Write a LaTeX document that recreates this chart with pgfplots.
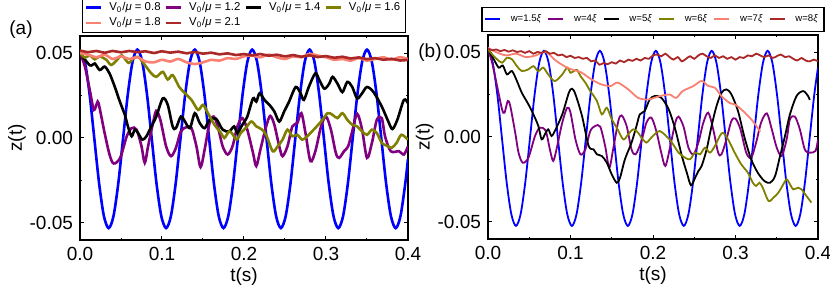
\documentclass[border=0pt]{standalone}
\usepackage{pgfplots}
\pgfplotsset{compat=1.18}
\usepackage{fontspec}
\setmainfont{Liberation Sans}
\definecolor{cblue}{RGB}{0,0,255}
\definecolor{cpurple}{RGB}{128,0,128}
\definecolor{colive}{RGB}{128,128,0}
\definecolor{csalmon}{RGB}{250,128,114}
\definecolor{cbrown}{RGB}{170,40,40}
\pgfplotsset{
  panel/.style={
    scale only axis, height=102pt,
    xmin=0, xmax=0.4, ymin=-0.06, ymax=0.06,
    xtick={0,0.1,0.2,0.3,0.4}, xticklabels={0.0,0.1,0.2,0.3,0.4},
    ytick={-0.05,0,0.05}, yticklabels={-0.05,0.00,0.05},
    minor x tick num=1, minor y tick num=1,
    tick align=inside, tick pos=both,
    major tick length=2.2pt, minor tick length=1.2pt,
    every tick/.style={black, line width=0.5pt},
    axis line style={line width=0.9pt},
    tick label style={font=\fontsize{9.5}{11}\selectfont},
    label style={font=\fontsize{9.5}{11}\selectfont},
    xlabel={t(s)}, ylabel={z(t)},
    xlabel style={at={(axis description cs:0.5,-0.181)}, anchor=center},
    ylabel style={at={(axis description cs:-0.192,0.5)}, anchor=center},
    legend cell align=left,
    legend image code/.code={\draw[##1] (0pt,0pt) -- (7.5pt,0pt);},
    every axis plot/.append style={smooth, tension=0.5},
  },
}
\begin{document}
\begin{tikzpicture}
\useasboundingbox (0,0) rectangle (415pt,-147.5pt);
\node[font=\fontsize{9.5}{11}\selectfont] at (10.5pt,-15pt) {(a)};
\node[font=\fontsize{9.5}{11}\selectfont] at (215pt,-26.5pt) {(b)};
% ---------------- panel (a)
\begin{axis}[panel, width=164pt, at={(40pt,-18pt)}, anchor=north west,
  every axis plot/.append style={line width=1.3pt},
  legend columns=4,
  legend style={at={(axis description cs:0.5,1.015)}, anchor=south, draw=black, line width=0.7pt,
    font=\fontsize{5.7}{6.5}\selectfont, inner xsep=1pt, inner ysep=0.8pt,
    nodes={inner xsep=1.5pt, inner ysep=1pt},
    /tikz/every odd column/.append style={column sep=2pt},
    /tikz/every even column/.append style={column sep=0.5pt}},
  ]
\addplot[cblue] coordinates {
(0,0.050) (0.00583,0.045) (0.01167,0.0258) (0.0175,-0.0005) (0.02333,-0.0268) (0.02917,-0.046) (0.035,-0.053) (0.04083,-0.046) (0.04667,-0.0268) (0.0525,-0.0005) (0.05833,0.0258) (0.06417,0.045)
(0.07,0.052) (0.07583,0.045) (0.08167,0.0258) (0.0875,-0.0005) (0.09333,-0.0268) (0.09917,-0.046) (0.105,-0.053) (0.11083,-0.046) (0.11667,-0.0268) (0.1225,-0.0005) (0.12833,0.0258) (0.13417,0.045)
(0.14,0.052) (0.14583,0.045) (0.15167,0.0258) (0.1575,-0.0005) (0.16333,-0.0268) (0.16917,-0.046) (0.175,-0.053) (0.18083,-0.046) (0.18667,-0.0268) (0.1925,-0.0005) (0.19833,0.0258) (0.20417,0.045)
(0.21,0.052) (0.21583,0.045) (0.22167,0.0258) (0.2275,-0.0005) (0.23333,-0.0268) (0.23917,-0.046) (0.245,-0.053) (0.25083,-0.046) (0.25667,-0.0268) (0.2625,-0.0005) (0.26833,0.0258) (0.27417,0.045)
(0.28,0.052) (0.28583,0.045) (0.29167,0.0258) (0.2975,-0.0005) (0.30333,-0.0268) (0.30917,-0.046) (0.315,-0.053) (0.32083,-0.046) (0.32667,-0.0268) (0.3325,-0.0005) (0.33833,0.0258) (0.34417,0.045)
(0.35,0.052) (0.35583,0.045) (0.36167,0.0258) (0.3675,-0.0005) (0.37333,-0.0268) (0.37917,-0.046) (0.385,-0.053) (0.39083,-0.046) (0.39667,-0.0268) (0.4,-0.0123)
};
\addlegendentry{V\textsubscript{0}/\textit{μ} = 0.8}
\addplot[cpurple] coordinates {
(0,0.05) (0.006,0.042) (0.012,0.028) (0.017,0.0165) (0.0215,0.0214) (0.024,0.0175) (0.030,0.003) (0.036,-0.0097) (0.041,-0.015) (0.049,-0.0117) (0.057,0.001) (0.063,0.0058) (0.069,0.0049) (0.075,-0.0049) (0.079,-0.0146) (0.083,-0.0049) (0.089,0.0088) (0.093,0.016) (0.098,0.0107) (0.105,-0.0049) (0.111,-0.0107) (0.117,-0.0058) (0.123,0.0039) (0.130,0.0064) (0.136,0.0058) (0.142,-0.0049) (0.147,-0.0171) (0.152,-0.0068) (0.158,0.0088) (0.163,0.0126) (0.168,0.0068) (0.174,-0.0049) (0.180,-0.0097) (0.186,-0.0049) (0.192,0.0068) (0.198,0.0117) (0.204,0.0049) (0.211,-0.0088) (0.215,-0.0165) (0.220,-0.0068) (0.227,0.0068) (0.232,0.013) (0.237,0.0078) (0.243,-0.0049) (0.247,-0.0107) (0.253,-0.0049) (0.259,0.0068) (0.265,0.0088) (0.270,0.0146) (0.275,0.0029) (0.281,-0.0136) (0.287,-0.0078) (0.294,0.0068) (0.300,0.0126) (0.306,0.0049) (0.312,-0.0088) (0.316,-0.0117) (0.322,-0.0078) (0.327,-0.0049) (0.332,0.0039) (0.338,0.0142) (0.344,0.0049) (0.350,-0.0117) (0.356,-0.0029) (0.362,0.0107) (0.368,0.0117) (0.372,0.001) (0.379,-0.0078) (0.389,-0.0078) (0.395,-0.0097) (0.400,-0.0049)
};
\addlegendentry{V\textsubscript{0}/\textit{μ} = 1.2}
\addplot[black] coordinates {
(0,0.05) (0.012,0.0428) (0.018,0.0438) (0.024,0.040) (0.030,0.042) (0.036,0.038) (0.0425,0.030) (0.0486,0.0214) (0.0547,0.0136) (0.0587,0.0064) (0.063,0.001) (0.0668,0.0049) (0.0709,0.0029) (0.076,-0.001) (0.081,0.001) (0.087,0.0068) (0.093,0.0126) (0.101,0.0233) (0.107,0.0195) (0.113,0.0068) (0.117,0.0058) (0.123,0.0126) (0.128,0.0097) (0.134,0.0058) (0.140,0.0146) (0.146,0.0088) (0.152,0.0058) (0.158,0.0107) (0.166,0.0113) (0.174,0.0049) (0.182,0.0039) (0.188,0.0068) (0.192,0.0029) (0.198,0.0078) (0.204,0.0126) (0.211,0.0233) (0.215,0.0214) (0.219,0.0263) (0.225,0.0224) (0.231,0.0195) (0.237,0.0156) (0.243,0.0097) (0.249,0.0156) (0.255,0.0214) (0.263,0.030) (0.269,0.0263) (0.273,0.0224) (0.279,0.030) (0.287,0.038) (0.292,0.034) (0.298,0.029) (0.304,0.032) (0.308,0.036) (0.314,0.032) (0.320,0.027) (0.326,0.033) (0.332,0.030) (0.338,0.0233) (0.344,0.0263) (0.350,0.030) (0.358,0.027) (0.368,0.0185) (0.376,0.0097) (0.381,0.0053) (0.387,0.0107) (0.395,0.0224) (0.400,0.0204)
};
\addlegendentry{V\textsubscript{0}/\textit{μ} = 1.4}
\addplot[colive] coordinates {
(0,0.05) (0.006,0.0473) (0.012,0.0486) (0.018,0.0463) (0.024,0.048) (0.032,0.046) (0.038,0.043) (0.045,0.0458) (0.051,0.0486) (0.059,0.0442) (0.065,0.0467) (0.071,0.0477) (0.079,0.043) (0.087,0.038) (0.093,0.036) (0.101,0.0389) (0.107,0.0344) (0.113,0.037) (0.121,0.030) (0.128,0.0263) (0.136,0.0224) (0.144,0.0165) (0.150,0.0195) (0.156,0.0146) (0.164,0.0078) (0.172,0.0029) (0.176,0.0) (0.182,0.0039) (0.186,0.0023) (0.191,-0.001) (0.196,0.0029) (0.202,0.0058) (0.209,0.0097) (0.215,0.0068) (0.221,0.0053) (0.227,0.0019) (0.235,-0.0078) (0.241,-0.0049) (0.247,-0.001) (0.253,0.0049) (0.259,0.001) (0.265,0.0019) (0.271,-0.001) (0.277,0.001) (0.285,0.0049) (0.294,0.0097) (0.302,0.0146) (0.308,0.0136) (0.314,0.0117) (0.320,0.0146) (0.326,0.0107) (0.332,0.0078) (0.338,0.0068) (0.344,0.0039) (0.350,0.0019) (0.356,0.0049) (0.362,0.0029) (0.368,-0.0029) (0.374,-0.0045) (0.380,-0.0058) (0.386,-0.0029) (0.392,0.0019) (0.400,-0.001)
};
\addlegendentry{V\textsubscript{0}/\textit{μ} = 1.6}
\addplot[csalmon] coordinates {
(0,0.050) (0.01,0.049) (0.02,0.0475) (0.03,0.049) (0.04,0.0465) (0.05,0.048) (0.06,0.0465) (0.07,0.0475) (0.08,0.045) (0.09,0.0445) (0.1,0.046) (0.11,0.045) (0.12,0.0465) (0.13,0.0445) (0.14,0.0435) (0.15,0.0445) (0.16,0.046) (0.17,0.0455) (0.18,0.047) (0.19,0.0465) (0.2,0.048) (0.21,0.0485) (0.22,0.0475) (0.23,0.049) (0.24,0.0475) (0.25,0.0465) (0.26,0.048) (0.27,0.0475) (0.28,0.0495) (0.29,0.0485) (0.3,0.0475) (0.31,0.046) (0.32,0.0465) (0.33,0.0455) (0.34,0.047) (0.35,0.0455) (0.36,0.0465) (0.37,0.0475) (0.38,0.046) (0.39,0.0475) (0.4,0.0465)
};
\addlegendentry{V\textsubscript{0}/\textit{μ} = 1.8}
\addplot[cbrown] coordinates {
(0,0.0515) (0.01,0.0505) (0.02,0.0512) (0.03,0.0502) (0.04,0.0512) (0.05,0.0504) (0.06,0.0512) (0.07,0.0505) (0.08,0.051) (0.09,0.050) (0.1,0.051) (0.11,0.0502) (0.12,0.0508) (0.13,0.0498) (0.14,0.0506) (0.15,0.0496) (0.16,0.0502) (0.17,0.0492) (0.18,0.0498) (0.19,0.0488) (0.2,0.0494) (0.21,0.0486) (0.22,0.0494) (0.23,0.0484) (0.24,0.049) (0.25,0.048) (0.26,0.0488) (0.27,0.0478) (0.28,0.0486) (0.29,0.0476) (0.3,0.0482) (0.31,0.0472) (0.32,0.0478) (0.33,0.0468) (0.34,0.0474) (0.35,0.0464) (0.36,0.047) (0.37,0.046) (0.38,0.0466) (0.39,0.0456) (0.4,0.046)
};
\addlegendentry{V\textsubscript{0}/\textit{μ} = 2.1}
\end{axis}
% ---------------- panel (b)
\begin{axis}[panel, width=165pt, at={(244pt,-17.5pt)}, anchor=north west,
  every axis plot/.append style={line width=0.9pt},
  legend columns=6,
  legend style={at={(axis description cs:0.5,1.015)}, anchor=south, draw=black, line width=0.7pt,
    font=\fontsize{4.8}{5.5}\selectfont, inner xsep=1pt, inner ysep=1.5pt,
    /tikz/every odd column/.append style={column sep=3pt},
    /tikz/every even column/.append style={column sep=1pt}},
  ]
\addplot[cblue] coordinates {
(0,0.0507) (0.00565,0.0438) (0.0113,0.0250) (0.01695,-0.0008) (0.0226,-0.0266) (0.02825,-0.0454) (0.0339,-0.0523) (0.03955,-0.0454) (0.0452,-0.0266) (0.05085,-0.0008) (0.0565,0.0250) (0.06215,0.0438)
(0.0678,0.0507) (0.07345,0.0438) (0.0791,0.0250) (0.08475,-0.0008) (0.0904,-0.0266) (0.09605,-0.0454) (0.1017,-0.0523) (0.10735,-0.0454) (0.113,-0.0266) (0.11865,-0.0008) (0.1243,0.0250) (0.12995,0.0438)
(0.1356,0.0507) (0.14125,0.0438) (0.1469,0.0250) (0.15255,-0.0008) (0.1582,-0.0266) (0.16385,-0.0454) (0.1695,-0.0523) (0.17515,-0.0454) (0.1808,-0.0266) (0.18645,-0.0008) (0.1921,0.0250) (0.19775,0.0438)
(0.2034,0.0507) (0.20905,0.0438) (0.2147,0.0250) (0.22035,-0.0008) (0.226,-0.0266) (0.23165,-0.0454) (0.2373,-0.0523) (0.24295,-0.0454) (0.2486,-0.0266) (0.25425,-0.0008) (0.2599,0.0250) (0.26555,0.0438)
(0.2712,0.0507) (0.27685,0.0438) (0.2825,0.0250) (0.28815,-0.0008) (0.2938,-0.0266) (0.29945,-0.0454) (0.3051,-0.0523) (0.31075,-0.0454) (0.3164,-0.0266) (0.32205,-0.0008) (0.3277,0.0250) (0.33335,0.0438)
(0.339,0.0507) (0.34465,0.0438) (0.3503,0.0250) (0.35595,-0.0008) (0.3616,-0.0266) (0.36725,-0.0454) (0.3729,-0.0523) (0.37855,-0.0454) (0.3842,-0.0266) (0.38985,-0.0008) (0.3955,0.0250) (0.4,0.0408)
};
\addlegendentry{w=1.5\textit{ξ}}
\addplot[cpurple] coordinates {
(0,0.0515) (0.005,0.0437) (0.011,0.030) (0.017,0.0163) (0.020,0.0143) (0.024,0.0212) (0.027,0.0182) (0.033,0.0025) (0.037,-0.0092) (0.042,-0.0151) (0.049,-0.0122) (0.057,0.0006) (0.063,0.0055) (0.070,0.0035) (0.075,-0.0073) (0.079,-0.0141) (0.083,-0.0073) (0.090,0.0084) (0.096,0.0172) (0.100,0.0143) (0.106,-0.0014) (0.112,-0.0102) (0.118,-0.0073) (0.124,0.0035) (0.130,0.0065) (0.136,0.0061) (0.142,-0.0053) (0.147,-0.018) (0.152,-0.0063) (0.158,0.0094) (0.162,0.0127) (0.168,0.0065) (0.174,-0.0073) (0.179,-0.0102) (0.186,-0.0024) (0.192,0.0084) (0.198,0.0114) (0.204,0.0035) (0.210,-0.0092) (0.215,-0.017) (0.221,-0.0053) (0.227,0.0084) (0.231,0.012) (0.237,0.0061) (0.243,-0.0063) (0.249,-0.0102) (0.255,-0.0033) (0.261,0.0084) (0.267,0.0143) (0.273,0.0045) (0.279,-0.0092) (0.283,-0.0102) (0.289,-0.0014) (0.295,0.0094) (0.300,0.0108) (0.306,0.0045) (0.313,-0.0092) (0.319,-0.0122) (0.325,-0.0033) (0.331,0.0084) (0.338,0.0139) (0.344,0.0045) (0.350,-0.0063) (0.356,-0.0112) (0.362,-0.0014) (0.366,0.0104) (0.372,0.012) (0.378,0.0045) (0.384,-0.0073) (0.390,-0.0092) (0.397,-0.0082) (0.400,-0.0014)
};
\addlegendentry{w=4\textit{ξ}}
\addplot[black] coordinates {
(0,0.0515) (0.007,0.0457) (0.013,0.0408) (0.018,0.042) (0.023,0.0368) (0.029,0.0388) (0.035,0.033) (0.041,0.026) (0.049,0.0192) (0.055,0.0133) (0.061,0.0065) (0.065,-0.0014) (0.069,0.0016) (0.073,0.0045) (0.077,0.0006) (0.081,0.0035) (0.090,0.0133) (0.098,0.026) (0.102,0.0284) (0.106,0.0251) (0.114,0.0123) (0.122,-0.0053) (0.128,-0.0073) (0.132,-0.0102) (0.138,-0.0112) (0.144,-0.0151) (0.150,-0.022) (0.156,-0.0269) (0.160,-0.024) (0.166,-0.0131) (0.174,-0.0033) (0.180,0.0065) (0.184,0.0133) (0.190,0.0153) (0.196,0.0221) (0.202,0.0241) (0.210,0.0231) (0.219,0.0163) (0.227,0.0045) (0.235,-0.0112) (0.241,-0.021) (0.246,-0.0284) (0.251,-0.024) (0.255,-0.020) (0.259,-0.017) (0.265,-0.0073) (0.271,0.0065) (0.277,0.0182) (0.283,0.026) (0.289,0.028) (0.295,0.0251) (0.303,0.0153) (0.311,-0.0004) (0.319,-0.0131) (0.327,-0.021) (0.335,-0.0259) (0.342,-0.0269) (0.348,-0.0229) (0.354,-0.0112) (0.360,0.0006) (0.366,0.0133) (0.374,0.0241) (0.382,0.027) (0.388,0.0241) (0.390,0.0218)
};
\addlegendentry{w=5\textit{ξ}}
\addplot[colive] coordinates {
(0,0.0515) (0.005,0.0486) (0.011,0.0457) (0.017,0.0437) (0.023,0.0466) (0.029,0.0457) (0.035,0.0417) (0.041,0.0388) (0.049,0.0398) (0.055,0.0417) (0.061,0.0388) (0.067,0.0408) (0.073,0.0368) (0.081,0.0329) (0.090,0.0368) (0.096,0.0408) (0.100,0.0378) (0.104,0.0388) (0.108,0.0394) (0.112,0.0359) (0.118,0.032) (0.124,0.027) (0.132,0.0212) (0.138,0.0133) (0.144,0.0172) (0.150,0.0104) (0.156,0.0055) (0.164,-0.0014) (0.170,0.0016) (0.176,0.0045) (0.182,0.0025) (0.186,-0.0004) (0.192,-0.0033) (0.196,-0.0014) (0.202,0.0016) (0.208,0.0035) (0.216,0.0006) (0.223,-0.0033) (0.231,-0.0092) (0.239,-0.0122) (0.245,-0.0131) (0.251,-0.0092) (0.257,-0.0102) (0.263,-0.0063) (0.269,-0.0092) (0.275,-0.0053) (0.281,0.0006) (0.285,0.0025) (0.291,-0.0014) (0.299,-0.0092) (0.307,-0.0161) (0.315,-0.021) (0.321,-0.0269) (0.325,-0.0288) (0.329,-0.0269) (0.333,-0.0298) (0.340,-0.0376) (0.346,-0.0357) (0.352,-0.0327) (0.358,-0.0278) (0.362,-0.0249) (0.366,-0.0278) (0.370,-0.0308) (0.376,-0.0298) (0.380,-0.0308) (0.386,-0.0347) (0.392,-0.0386)
};
\addlegendentry{w=6\textit{ξ}}
\addplot[csalmon] coordinates {
(0,0.0525) (0.0097,0.050) (0.0218,0.048) (0.034,0.049) (0.046,0.047) (0.058,0.048) (0.070,0.050) (0.082,0.045) (0.095,0.041) (0.103,0.0395) (0.113,0.038) (0.125,0.034) (0.137,0.031) (0.149,0.030) (0.157,0.032) (0.170,0.028) (0.182,0.023) (0.194,0.022) (0.201,0.023) (0.208,0.024) (0.220,0.025) (0.228,0.023) (0.236,0.027) (0.249,0.030) (0.259,0.033) (0.267,0.030) (0.275,0.029) (0.283,0.024) (0.293,0.020) (0.300,0.019) (0.308,0.0158) (0.320,0.0099) (0.330,0.0031)
};
\addlegendentry{w=7\textit{ξ}}
\addplot[cbrown] coordinates {
(0,0.052) (0.005,0.051) (0.01,0.0515) (0.015,0.0505) (0.02,0.0512) (0.025,0.0502) (0.03,0.051) (0.035,0.050) (0.04,0.0505) (0.045,0.0495) (0.05,0.0505) (0.055,0.049) (0.06,0.050) (0.065,0.0495) (0.07,0.0505) (0.075,0.049) (0.08,0.0495) (0.085,0.048) (0.09,0.0485) (0.095,0.047) (0.1,0.0478) (0.105,0.0465) (0.11,0.047) (0.115,0.046) (0.12,0.0465) (0.125,0.0445) (0.13,0.045) (0.135,0.0425) (0.14,0.0435) (0.145,0.0428) (0.15,0.044) (0.155,0.0432) (0.16,0.045) (0.165,0.044) (0.17,0.0455) (0.175,0.0448) (0.18,0.046) (0.185,0.045) (0.19,0.0465) (0.195,0.046) (0.2,0.048) (0.205,0.0485) (0.21,0.0475) (0.215,0.049) (0.22,0.047) (0.225,0.0455) (0.23,0.047) (0.235,0.0445) (0.24,0.046) (0.245,0.0475) (0.25,0.046) (0.255,0.048) (0.26,0.049) (0.265,0.0475) (0.27,0.0465) (0.275,0.048) (0.28,0.0465) (0.285,0.0475) (0.29,0.046) (0.295,0.047) (0.3,0.0455) (0.305,0.047) (0.31,0.0465) (0.315,0.048) (0.32,0.0475) (0.325,0.049) (0.33,0.048) (0.335,0.047) (0.34,0.048) (0.345,0.0465) (0.35,0.0475) (0.355,0.0485) (0.36,0.047) (0.365,0.0475) (0.37,0.046) (0.375,0.045) (0.38,0.0465) (0.385,0.045) (0.39,0.0445) (0.395,0.0455) (0.4,0.0445)
};
\addlegendentry{w=8\textit{ξ}}
\end{axis}
\end{tikzpicture}
\end{document}
